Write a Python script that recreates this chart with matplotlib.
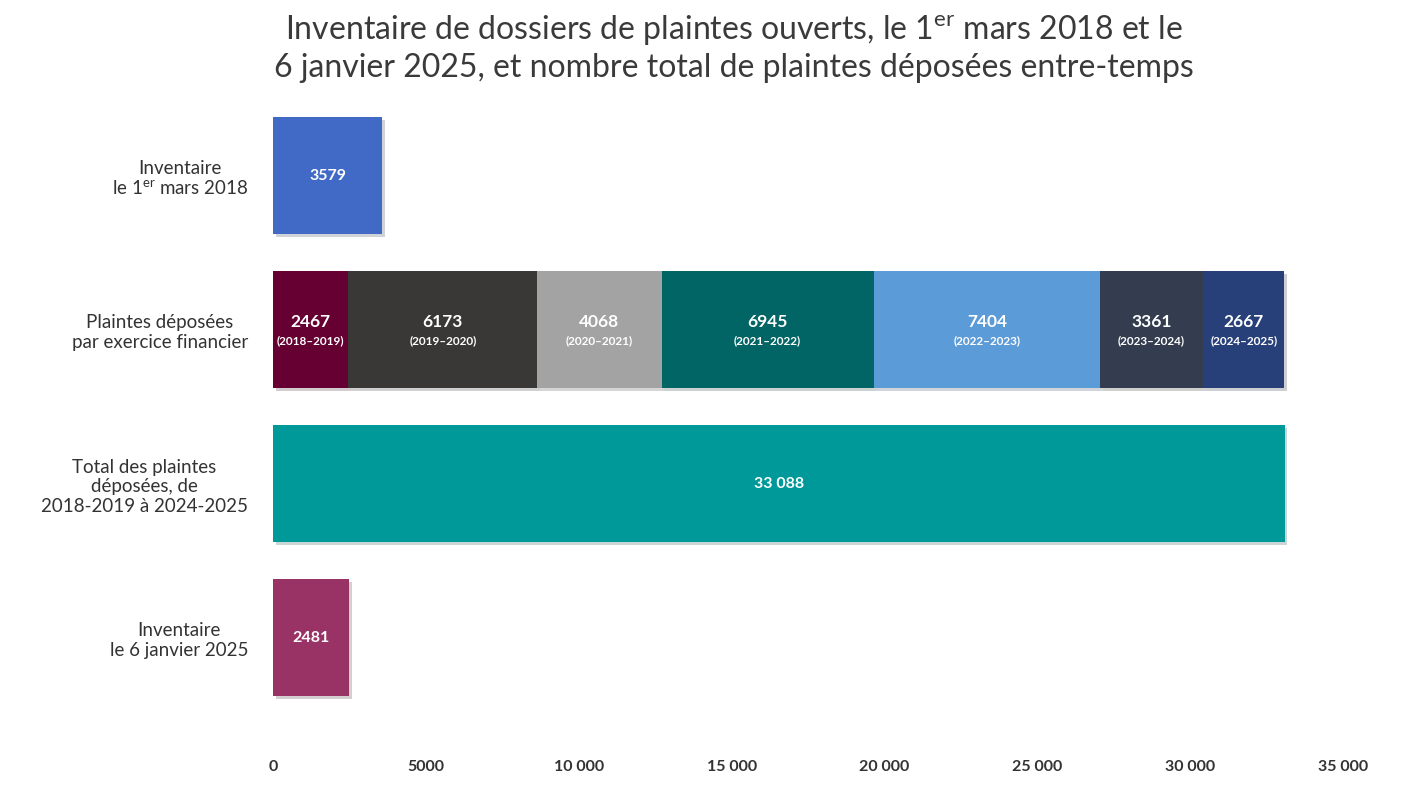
import matplotlib.pyplot as plt
import matplotlib.patheffects as pe
from matplotlib.ticker import FuncFormatter

plt.rcParams['font.family'] = ['Lato', 'DejaVu Sans']

# categories (top to bottom)
categories = [
    "Inventaire\nle 1$^{\\mathregular{er}}$ mars 2018",
    "Plaintes déposées\npar exercice financier",
    "Total des plaintes\ndéposées, de\n2018-2019 à 2024-2025",
    "Inventaire\nle 6 janvier 2025",
]
inventory_2018 = 3579
fiscal_years = ["2018–2019", "2019–2020", "2020–2021", "2021–2022",
                "2022–2023", "2023–2024", "2024–2025"]
fiscal_values = [2467, 6173, 4068, 6945, 7404, 3361, 2667]
total_filed = 33088
inventory_2025 = 2481

fiscal_colors = ["#660033", "#393837", "#a3a3a3", "#006564",
                 "#5b9bd8", "#333d4f", "#27407a"]


def fr_num(v):
    v = int(round(v))
    if v < 10000:
        return str(v)
    return f"{v:,}".replace(",", " ")


fig = plt.figure(figsize=(14.03, 8.06), dpi=100)
ax = fig.add_axes([273 / 1403, 1 - 735 / 806, (1343 - 273) / 1403, (735 - 98) / 806])

ypos = [3, 2, 1, 0]
h = 0.76
shadow = [pe.SimplePatchShadow(offset=(2, -2), alpha=0.2), pe.Normal()]

b = ax.barh(ypos[0], inventory_2018, height=h, color="#4169c6")
b[0].set_path_effects(shadow)
ax.text(inventory_2018 / 2, ypos[0], str(inventory_2018), ha="center", va="center",
        color="white", fontsize=11.5, fontweight="bold")

left = 0
for yr, val, col in zip(fiscal_years, fiscal_values, fiscal_colors):
    b = ax.barh(ypos[1], val, left=left, height=h, color=col)
    b[0].set_path_effects(shadow)
    cx = left + val / 2
    ax.text(cx, ypos[1] + 0.05, str(val), ha="center", va="center",
            color="white", fontsize=12.5, fontweight="bold")
    ax.text(cx, ypos[1] - 0.07, f"({yr})", ha="center", va="center",
            color="white", fontsize=8.5, fontweight="bold")
    left += val

b = ax.barh(ypos[2], total_filed, height=h, color="#009999")
b[0].set_path_effects(shadow)
ax.text(total_filed / 2, ypos[2], fr_num(total_filed), ha="center", va="center",
        color="white", fontsize=11.5, fontweight="bold")

b = ax.barh(ypos[3], inventory_2025, height=h, color="#993366")
b[0].set_path_effects(shadow)
ax.text(inventory_2025 / 2, ypos[3], str(inventory_2025), ha="center", va="center",
        color="white", fontsize=11.5, fontweight="bold")

ax.set_xlim(0, 35000)
ax.set_ylim(-0.63, 3.506)
ax.set_xticks(range(0, 35001, 5000))
ax.xaxis.set_major_formatter(FuncFormatter(lambda v, p: fr_num(v)))
ax.set_yticks(ypos)
ax.set_yticklabels(categories, multialignment="center")
ax.tick_params(axis="y", length=0, pad=18, labelsize=13.5, labelcolor="#333333")
ax.tick_params(axis="x", length=0, pad=18, labelsize=11.5, labelcolor="#333333")
for lbl in ax.get_xticklabels():
    lbl.set_fontweight("bold")
for s in ax.spines.values():
    s.set_visible(False)

fig.text(0.523, 0.94,
         "Inventaire de dossiers de plaintes ouverts, le 1$^{\\mathregular{er}}$ mars 2018 et le\n"
         "6 janvier 2025, et nombre total de plaintes déposées entre-temps",
         ha="center", va="center", fontsize=23, color="#3a3a3a", linespacing=1.2)

fig.savefig("out.png", dpi=100)
